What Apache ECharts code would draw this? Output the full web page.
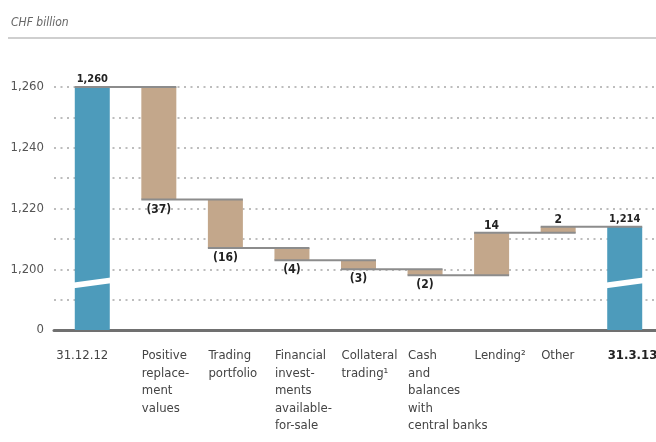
<!DOCTYPE html>
<html>
<head>
<meta charset="utf-8">
<script src="https://cdn.jsdelivr.net/npm/echarts@6/dist/echarts.min.js"></script>
<style>
    html, body { margin: 0; padding: 0; background: #fff; }
    #chart { width: 656px; height: 442px; }
</style>
</head>
<body>
<div id="chart"></div>
<script>
// data
const categories = [
    '31.12.12',
    'Positive\nreplace-\nment\nvalues',
    'Trading\nportfolio',
    'Financial\ninvest-\nments\navailable-\nfor-sale',
    'Collateral\ntrading¹',
    'Cash\nand\nbalances\nwith\ncentral banks',
    'Lending²',
    'Other',
    '31.3.13'
];
const startTotal = 1260;
const endTotal = 1214;
const changes = [-37, -16, -4, -3, -2, 14, 2];
const yTickValues = [1180, 1200, 1220, 1240, 1260];
const yTickLabels = ['0', '1,200', '1,220', '1,240', '1,260'];

const FONT = "'Liberation Sans Narrow', 'DejaVu Sans Condensed', sans-serif";
const BLUE = '#4d9bbb';
const BROWN = '#c3a78b';
const BAR_W = 35;

function fmt(n) {
    return n.toLocaleString('en-US');
}

// build waterfall pieces
const levels = [startTotal];
const baseData = [0];
const visData = [];
visData.push({
    value: startTotal,
    itemStyle: {color: BLUE},
    label: {position: 'top', formatter: fmt(startTotal), fontSize: 11, distance: 2}
});
changes.forEach(function (d) {
    const prev = levels[levels.length - 1];
    const next = prev + d;
    levels.push(next);
    baseData.push(Math.min(prev, next));
    visData.push({
        value: Math.abs(d),
        itemStyle: {color: BROWN},
        label: d < 0
            ? {position: 'bottom', formatter: '(' + Math.abs(d) + ')', distance: 4}
            : {position: 'top', formatter: String(d), distance: 1}
    });
});
baseData.push(0);
visData.push({
    value: endTotal,
    itemStyle: {color: BLUE},
    label: {position: 'top', formatter: fmt(endTotal), fontSize: 11, distance: 2}
});

// connector lines: from left of bar i to right of bar i+1
const connectors = [];
for (let i = 0; i < categories.length - 1; i++) {
    connectors.push([i, i + 1, levels[i]]);
}
const breakAt = 1195.5;
const breaks = [[0, breakAt], [categories.length - 1, breakAt]];

// x labels: first one sits a bit left, last one is bold
const xLabelData = categories.map(function (c, i) {
    if (i === 0) {
        return {value: c, textStyle: {align: 'center', verticalAlign: 'top', padding: [0, 0, 0, 14]}};
    }
    if (i === categories.length - 1) {
        return {value: c, textStyle: {align: 'left', verticalAlign: 'top', fontWeight: 'bold', color: '#222'}};
    }
    return c;
});

const chart = echarts.init(document.getElementById('chart'));
const option = {
    animation: false,
    textStyle: {fontFamily: FONT},
    title: {
        text: 'CHF billion',
        left: 6,
        top: 12,
        textStyle: {fontFamily: FONT, fontStyle: 'italic', fontWeight: 'normal', fontSize: 12, color: '#666'}
    },
    graphic: [{
        type: 'rect',
        shape: {x: 8, y: 37, width: 648, height: 2},
        style: {fill: '#cfcfcf'}
    }],
    grid: [
        {left: 54, right: 0, top: 87, bottom: 112, outerBoundsMode: 'none'},
        {left: 59, right: -2, top: 87, bottom: 112, outerBoundsMode: 'none'},
        {left: 42, right: 15, top: 87, bottom: 112, outerBoundsMode: 'none'}
    ],
    xAxis: [
        {
            gridIndex: 0, type: 'value', min: 0, max: 1,
            axisLine: {show: true, onZero: false, lineStyle: {color: '#707070', width: 3}},
            axisTick: {show: false}, axisLabel: {show: false}, splitLine: {show: false}
        },
        {
            gridIndex: 1, type: 'category', data: categories,
            axisLine: {show: false}, axisTick: {show: false}, axisLabel: {show: false}
        },
        {
            gridIndex: 2, type: 'category', data: xLabelData,
            axisLine: {show: false}, axisTick: {show: false},
            axisLabel: {
                interval: 0, align: 'left', verticalAlign: 'top', margin: 17,
                fontFamily: FONT, fontSize: 13, lineHeight: 17.5, color: '#444'
            }
        }
    ],
    yAxis: [
        {
            gridIndex: 0, type: 'value', min: 1180, max: 1260, interval: 10,
            axisLine: {show: false}, axisTick: {show: false},
            axisLabel: {
                margin: 10, fontFamily: FONT, fontSize: 13, color: '#555',
                formatter: function (v) {
                    const k = yTickValues.indexOf(v);
                    return k >= 0 ? yTickLabels[k] : '';
                }
            },
            splitLine: {lineStyle: {type: [2, 4.5], color: '#a8a8a8', width: 1.5}}
        },
        {gridIndex: 1, type: 'value', min: 1180, max: 1260, show: false},
        {gridIndex: 2, type: 'value', show: false}
    ],
    series: [
        {
            type: 'bar', xAxisIndex: 1, yAxisIndex: 1, stack: 'wf',
            barWidth: BAR_W, itemStyle: {color: 'transparent'},
            data: baseData, silent: true
        },
        {
            type: 'bar', xAxisIndex: 1, yAxisIndex: 1, stack: 'wf',
            barWidth: BAR_W, data: visData, z: 3,
            label: {show: true, fontFamily: FONT, fontSize: 12, fontWeight: 'bold', color: '#222'}
        },
        {
            type: 'custom', xAxisIndex: 1, yAxisIndex: 1, z: 5,
            encode: {x: [0, 1], y: 2},
            data: connectors,
            renderItem: function (params, api) {
                const a = api.coord([api.value(0), api.value(2)]);
                const b = api.coord([api.value(1), api.value(2)]);
                return {
                    type: 'line',
                    shape: {x1: a[0] - BAR_W / 2, y1: a[1], x2: b[0] + BAR_W / 2, y2: b[1]},
                    style: {stroke: '#8c8c8c', lineWidth: 2}
                };
            }
        },
        {
            type: 'custom', xAxisIndex: 1, yAxisIndex: 1, z: 6,
            data: breaks,
            renderItem: function (params, api) {
                const c = api.coord([api.value(0), api.value(1)]);
                const xl = c[0] - BAR_W / 2 - 1, xr = c[0] + BAR_W / 2 + 1;
                return {
                    type: 'polygon',
                    shape: {points: [
                        [xl, c[1] - 0.4], [xr, c[1] - 5.4],
                        [xr, c[1] + 0.4], [xl, c[1] + 5.4]
                    ]},
                    style: {fill: '#fff'}
                };
            }
        }
    ]
};
chart.setOption(option);
</script>
</body>
</html>
